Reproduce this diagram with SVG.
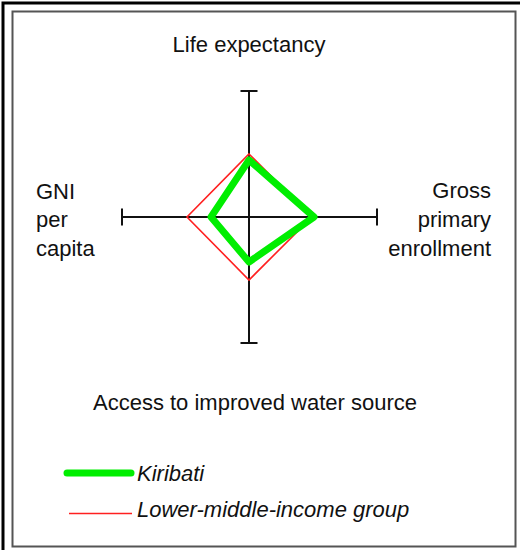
<svg xmlns="http://www.w3.org/2000/svg" width="520" height="550" viewBox="0 0 520 550">
<style>
text{font-family:"Liberation Sans",Arial,sans-serif;font-size:22px;fill:#111}
.it{font-style:italic}
.ax{stroke:#111;stroke-width:2;fill:none}
.red{stroke:#ff2020;stroke-width:1.6;fill:none;stroke-linejoin:miter}
.grn{stroke:#00ee00;stroke-width:7;fill:none;stroke-linejoin:round}
</style>
<rect width="520" height="550" fill="#fff"/>
<g id="frame">
<path d="M3,550 V3 H520" stroke="#000" stroke-width="3" fill="none"/>
<rect x="12.5" y="11.5" width="503" height="535" fill="none" stroke="#555" stroke-width="2"/>
</g>
<g id="axes" class="ax">
<path d="M249,91 V343 M240.5,91 H257.5 M240.5,343 H257.5"/>
<path d="M122,217 H377 M122,208.5 V225.5 M377,208.5 V225.5"/>
</g>
<g id="connectors">
<polygon id="lower-middle" class="red" points="249,154 312,217 249,280 187,217"/>
<polygon id="kiribati" class="grn" points="249,160 314,217 249,262 211,217"/>
</g>
<g id="label-life"><text x="249" y="52" text-anchor="middle">Life expectancy</text></g>
<g id="label-gni"><text x="36" y="199">GNI</text><text x="36" y="227">per</text><text x="36" y="256">capita</text></g>
<g id="label-gross"><text x="491" y="198" text-anchor="end">Gross</text><text x="491" y="227" text-anchor="end">primary</text><text x="491" y="256" text-anchor="end">enrollment</text></g>
<g id="label-access"><text x="255" y="410" text-anchor="middle">Access to improved water source</text></g>
<g id="legend">
<line x1="67" y1="473" x2="131" y2="473" stroke="#00ee00" stroke-width="7" stroke-linecap="round"/>
<text class="it" x="137" y="481">Kiribati</text>
<line x1="69" y1="513.5" x2="132" y2="513.5" stroke="#ff2020" stroke-width="1.6"/>
<text class="it" x="137" y="517">Lower-middle-income group</text>
</g>
</svg>
